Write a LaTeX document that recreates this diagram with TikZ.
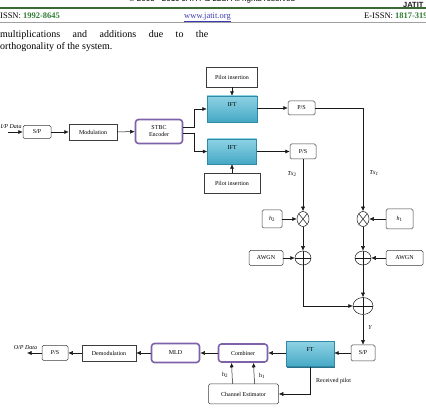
\documentclass[tikz,border=0pt]{standalone}
\usepackage{fontspec}
\setmainfont{Liberation Serif}
\newfontfamily\hdsans{Liberation Sans}
\usepackage{tikz}
\usepackage{xcolor}
\usetikzlibrary{arrows.meta,positioning,shapes.geometric,shadows}
\definecolor{ink}{HTML}{1A1A1A}
\definecolor{boxline}{HTML}{3C3C3C}
\definecolor{stbcpurple}{HTML}{7E62A8}
\definecolor{aqualt}{HTML}{8ED2E4}
\definecolor{aquamid}{HTML}{45A8C4}
\definecolor{aquadk}{HTML}{2F8AA5}
\definecolor{aquashd}{HTML}{2A6F85}
\definecolor{issngreen}{HTML}{2E7D32}
\definecolor{rulegreen}{HTML}{3A6B35}
\definecolor{rulegray}{HTML}{A0A0A0}
\definecolor{linkblue}{HTML}{3B3BB0}
\newcommand{\dfont}{\fontsize{6}{7}\selectfont}
\tikzset{
  sqbox/.style={draw=boxline,fill=white,line width=0.5pt,
                inner sep=1pt,align=center,font=\dfont},
  rndbox/.style={sqbox,rounded corners=1.5pt},
  stbcbox/.style={draw=stbcpurple,fill=white,line width=1.6pt,
                  rounded corners=3pt,inner sep=1pt,align=center,font=\dfont},
  ftbox/.style={draw=aquadk,top color=aqualt,bottom color=aquamid,line width=0.4pt,
                drop shadow={shadow xshift=0.8pt,shadow yshift=-1.5pt,fill=aquashd,opacity=1},
                text depth=8pt,inner sep=1pt,font=\dfont},
  mulnode/.style={ellipse,draw=ink,fill=white,line width=0.5pt,inner sep=0pt,
                  minimum width=12pt,minimum height=15pt,
                  path picture={\draw[ink,line width=0.5pt]
                    (path picture bounding box.north west)--(path picture bounding box.south east)
                    (path picture bounding box.north east)--(path picture bounding box.south west);}},
  addnode/.style={ellipse,draw=ink,fill=white,line width=0.5pt,inner sep=0pt,
                  minimum width=16pt,minimum height=14pt,
                  path picture={\draw[ink,line width=0.5pt]
                    (path picture bounding box.north)--(path picture bounding box.south)
                    (path picture bounding box.west)--(path picture bounding box.east);}},
  flowarr/.style={-{Latex[length=4.5pt,width=4pt]},line width=0.5pt,color=ink},
  lbl/.style={font=\dfont\itshape,inner sep=1pt},
  hdtext/.style={inner sep=0pt,anchor=base west,font=\fontsize{8.5}{10}\selectfont}
}
\begin{document}
\begin{tikzpicture}[x=1pt,y=-1pt,>=Latex]
  \useasboundingbox (0,0) rectangle (426,411);
  \node[inner sep=0pt,anchor=base,font=\hdsans\fontsize{8}{9}\selectfont] (copy) at (212,2)
    {\textcopyright{} 2005 - 2010 JATIT \& LLS. All rights reserved};
  \node[inner sep=0pt,anchor=base west,font=\hdsans\bfseries\fontsize{7.5}{8}\selectfont,text=ink] (logo) at (403,7.5) {JATIT};
  \draw[rulegreen,line width=1.5pt] (0,8) -- (426,8);
  \draw[rulegray,line width=0.8pt] (0,22.5) -- (426,22.5);
  \node[hdtext] (issn) at (0,18.3) {ISSN: {\bfseries\color{issngreen}1992-8645}};
  \node[hdtext,anchor=base] (web) at (207.5,18.3) {\color{linkblue}\underline{www.jatit.org}};
  \node[hdtext] (eissn) at (364,18.3) {E-ISSN: {\bfseries\color{issngreen}1817-3195}};
  \node[inner sep=0pt,anchor=base west,font=\fontsize{10}{12}\selectfont] (para1) at (0,37.5)
    {\makebox[208pt][s]{multiplications and additions due to the}};
  \node[inner sep=0pt,anchor=base west,font=\fontsize{10}{12}\selectfont] (para2) at (0,49.5)
    {orthogonality of the system.};

  \coordinate (pin) at (8,132);
  \node[lbl,anchor=west,inner sep=0pt] (ipd) at (0.5,127) {I/P Data};
  \node[rndbox,minimum width=28pt,minimum height=13pt] (sp1) at (37,132) {S/P};
  \node[sqbox,minimum width=48pt,minimum height=16pt] (mod) at (93,132) {Modulation};
  \node[stbcbox,minimum width=47pt,minimum height=24pt] (stbc) at (159,131.5) {STBC\\Encoder};
  \node[sqbox,minimum width=51pt,minimum height=20pt] (pil1) at (232,77) {Pilot insertion};
  \node[ftbox,minimum width=50pt,minimum height=26pt] (ift1) at (232,109) {IFT};
  \node[ftbox,minimum width=49pt,minimum height=25pt] (ift2) at (232,151.5) {IFT};
  \node[sqbox,minimum width=56pt,minimum height=20pt] (pil2) at (232,183) {Pilot insertion};
  \node[rndbox,minimum width=27pt,minimum height=14pt] (ps1) at (301.5,108) {P/S};
  \node[rndbox,minimum width=26pt,minimum height=15pt] (ps2) at (303,151.5) {P/S};
  \node[lbl] (tx2) at (292,174) {Tx\textsubscript{2}};
  \node[lbl] (tx1) at (374,173) {Tx\textsubscript{1}};
  \node[mulnode] (mul2) at (303,219) {};
  \node[mulnode] (mul1) at (363,219) {};
  \node[rndbox,minimum width=20pt,minimum height=18pt] (h2) at (272,219) {\textit{h}\textsubscript{2}};
  \node[rndbox,minimum width=27pt,minimum height=20pt] (h1) at (399.5,219) {\textit{h}\textsubscript{1}};
  \node[addnode] (add2) at (303,258) {};
  \node[addnode] (add1) at (363,258) {};
  \node[rndbox,minimum width=34pt,minimum height=15pt] (awgn2) at (266,258) {AWGN};
  \node[rndbox,minimum width=37pt,minimum height=15pt] (awgn1) at (404.5,258) {AWGN};
  \node[addnode,minimum width=20pt,minimum height=17pt] (addr) at (363,306) {};
  \node[lbl] (yout) at (370,328) {Y};
  \node[rndbox,minimum width=24pt,minimum height=16pt] (sp2) at (363,353) {S/P};
  \node[ftbox,minimum width=48pt,minimum height=25pt] (ft) at (310,354) {FT};
  \node[stbcbox,minimum width=49pt,minimum height=18pt] (comb) at (243,353) {Combiner};
  \node[stbcbox,minimum width=48pt,minimum height=19pt] (mld) at (175.5,353) {MLD};
  \node[sqbox,minimum width=54pt,minimum height=16pt] (demod) at (109,353) {Demodulation};
  \node[rndbox,minimum width=26pt,minimum height=15pt] (ps3) at (55,353) {P/S};
  \coordinate (pout) at (27,353);
  \node[lbl] (opd) at (25.5,348) {O/P Data};
  \node[rndbox,minimum width=70pt,minimum height=20pt] (est) at (243.5,394) {Channel Estimator};
  \node[font=\dfont,inner sep=1pt] (lh2) at (225,375) {h\textsubscript{2}};
  \node[font=\dfont,inner sep=1pt] (lh1) at (262,376) {h\textsubscript{1}};
  \node[font=\dfont,inner sep=1pt,anchor=west] (rxp) at (315,381) {Received pilot};

  \draw[flowarr] (pin) -- (sp1);
  \draw[flowarr] (sp1) -- (mod);
  \draw[flowarr] (mod) -- (stbc);
  \draw[flowarr] ([yshift=4.5pt]stbc.east) -- ++(11,0) |- (ift1.west);
  \draw[flowarr] ([yshift=-2pt]stbc.east) -- ++(11,0) |- (ift2.west);
  \draw[flowarr] (pil1) -- (ift1);
  \draw[flowarr] (pil2) -- (ift2);
  \draw[flowarr] (ift1.east |- ps1) -- (ps1);
  \draw[flowarr] (ift2.east |- ps2) -- (ps2);
  \draw[flowarr] (ps1) -| (mul1);
  \draw[flowarr] (ps2) -- (mul2);
  \draw[flowarr] (h2) -- (mul2);
  \draw[flowarr] (h1) -- (mul1);
  \draw[flowarr] (mul2) -- (add2);
  \draw[flowarr] (mul1) -- (add1);
  \draw[flowarr] (awgn2) -- (add2);
  \draw[flowarr] (awgn1) -- (add1);
  \draw[flowarr] (add1) -- (addr);
  \draw[flowarr] (add2) |- (addr);
  \draw[flowarr] (addr) -- (sp2);
  \draw[flowarr] (sp2) -- (ft.east |- sp2);
  \draw[flowarr] (ft.west |- comb) -- (comb);
  \draw[flowarr] (comb) -- (mld);
  \draw[flowarr] (mld) -- (demod);
  \draw[flowarr] (demod) -- (ps3);
  \draw[flowarr] (ps3) -- (pout);
  \draw[flowarr] ([xshift=-11pt]est.north) -- ([xshift=-11.5pt]comb.south);
  \draw[flowarr] ([xshift=11pt]est.north) -- ([xshift=10.5pt]comb.south);
  \draw[flowarr] (ft.south) |- (est.east);
\end{tikzpicture}
\end{document}
